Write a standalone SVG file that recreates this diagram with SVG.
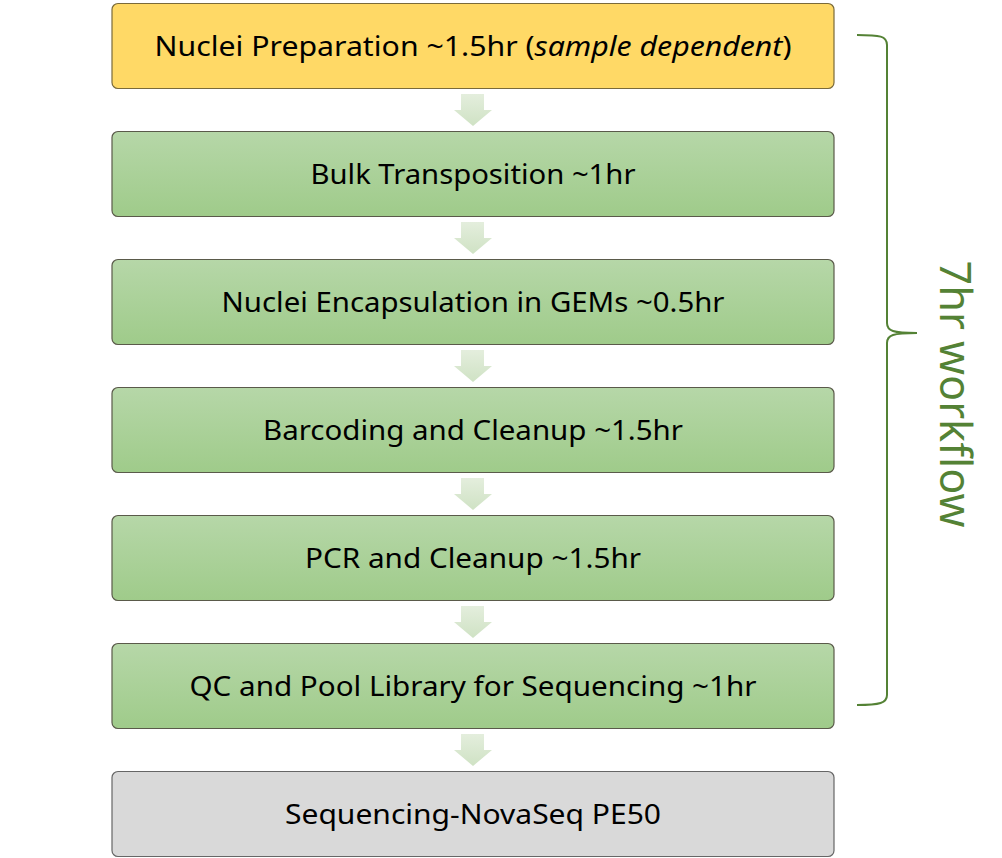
<svg xmlns="http://www.w3.org/2000/svg" width="1002" height="858" viewBox="0 0 1002 858">
<defs>
<linearGradient id="gGreen" x1="0" y1="0" x2="0" y2="1">
<stop offset="0" stop-color="#b6d7a8"/>
<stop offset="1" stop-color="#9fcb8a"/>
</linearGradient>
<linearGradient id="gArrow" x1="0" y1="0" x2="0" y2="1">
<stop offset="0" stop-color="#e4eedd"/>
<stop offset="1" stop-color="#cfe2c4"/>
</linearGradient>
<path id="arr" d="M461,0 H484 V16 H492 L473,32 L454,16 H461 Z" fill="url(#gArrow)"/>
</defs>
<style>
.box{stroke:#5a5a4a;stroke-width:1.2}
.green{fill:url(#gGreen)}
.yellow{fill:#ffd966;stroke:#7a6a3a}
.gray{fill:#d9d9d9;stroke:#666}
.lbl{font-family:"Noto Sans","DejaVu Sans",sans-serif;font-size:28px;fill:#000;text-anchor:middle}
</style>
<g id="connectors">
<use href="#arr" y="94"/>
<use href="#arr" y="222"/>
<use href="#arr" y="350"/>
<use href="#arr" y="478"/>
<use href="#arr" y="606"/>
<use href="#arr" y="734"/>
</g>
<g id="n1">
<rect class="box yellow" x="112" y="3.5" width="722" height="85" rx="6"/>
<text class="lbl" x="473" y="56" textLength="637" lengthAdjust="spacingAndGlyphs">Nuclei Preparation ~1.5hr (<tspan font-style="italic">sample dependent</tspan>)</text>
</g>
<g id="n2">
<rect class="box green" x="112" y="131.5" width="722" height="85" rx="6"/>
<text class="lbl" x="473" y="184" textLength="325" lengthAdjust="spacingAndGlyphs">Bulk Transposition ~1hr</text>
</g>
<g id="n3">
<rect class="box green" x="112" y="259.5" width="722" height="85" rx="6"/>
<text class="lbl" x="473" y="312" textLength="503" lengthAdjust="spacingAndGlyphs">Nuclei Encapsulation in GEMs ~0.5hr</text>
</g>
<g id="n4">
<rect class="box green" x="112" y="387.5" width="722" height="85" rx="6"/>
<text class="lbl" x="473" y="440" textLength="420" lengthAdjust="spacingAndGlyphs">Barcoding and Cleanup ~1.5hr</text>
</g>
<g id="n5">
<rect class="box green" x="112" y="515.5" width="722" height="85" rx="6"/>
<text class="lbl" x="473" y="568" textLength="336" lengthAdjust="spacingAndGlyphs">PCR and Cleanup ~1.5hr</text>
</g>
<g id="n6">
<rect class="box green" x="112" y="643.5" width="722" height="85" rx="6"/>
<text class="lbl" x="473" y="696" textLength="567" lengthAdjust="spacingAndGlyphs">QC and Pool Library for Sequencing ~1hr</text>
</g>
<g id="n7">
<rect class="box gray" x="112" y="771.5" width="722" height="85" rx="6"/>
<text class="lbl" x="473" y="824" textLength="376" lengthAdjust="spacingAndGlyphs">Sequencing-NovaSeq PE50</text>
</g>
<g id="brace">
<path d="M857,35 C880,35 887,36 887,45 V323 C887,331 893,333 917,333 C893,333 887,335 887,343 V695 C887,703 880,705 857,705" fill="none" stroke="#548235" stroke-width="2"/>
<text transform="translate(940,394) rotate(90)" font-family="'Noto Sans','DejaVu Sans',sans-serif" font-size="44" fill="#548235" text-anchor="middle" textLength="267" lengthAdjust="spacingAndGlyphs">7hr workflow</text>
</g>
</svg>
